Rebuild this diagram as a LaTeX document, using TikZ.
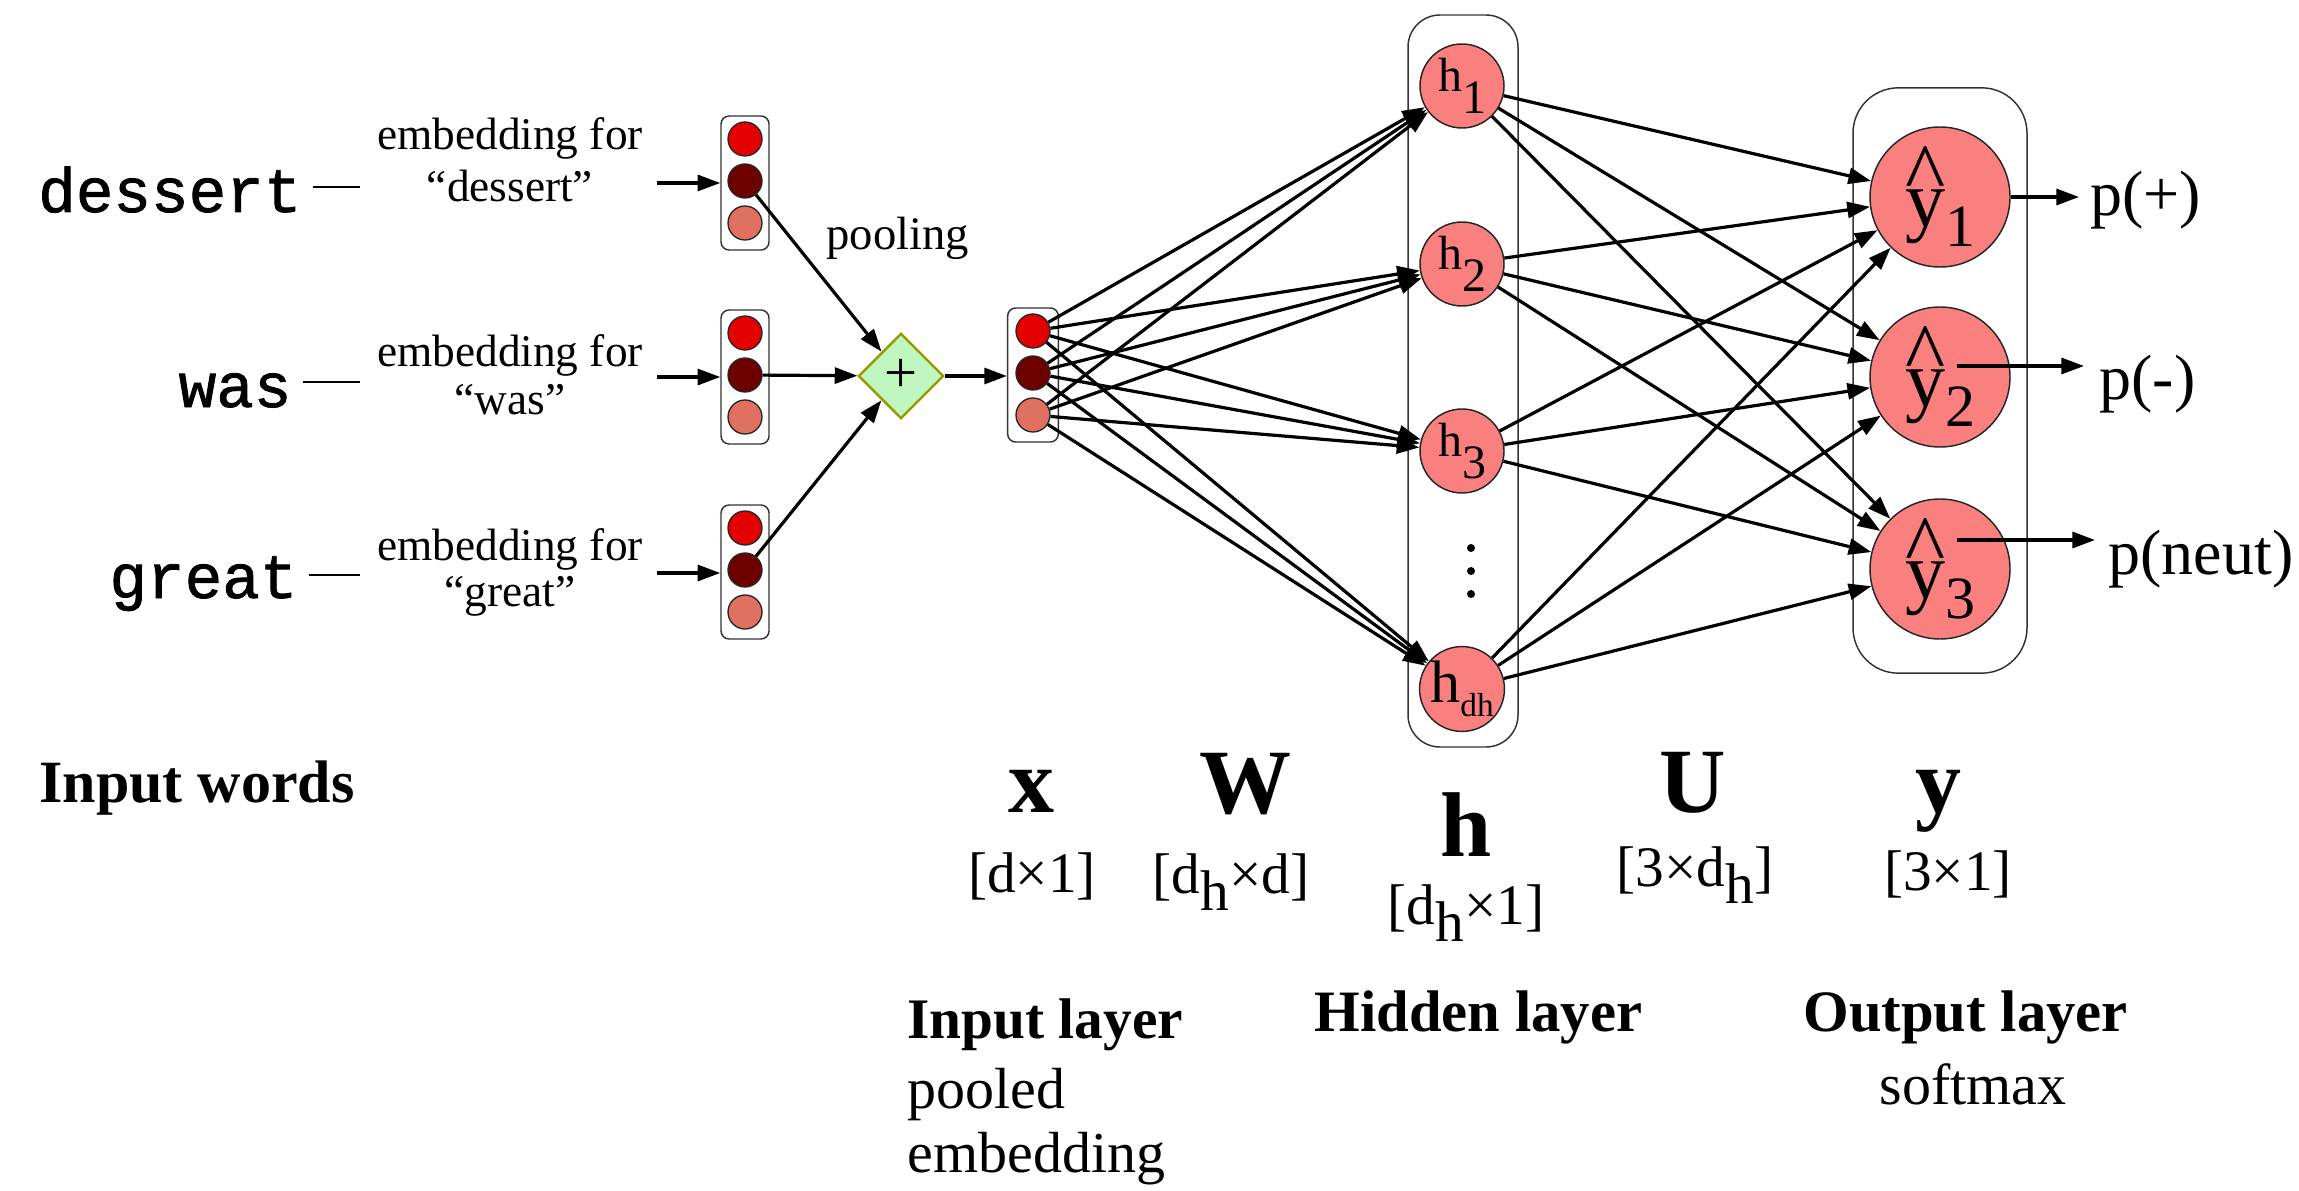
\documentclass[tikz,border=0pt]{standalone}
\usepackage{fontspec}
\setmainfont{Liberation Serif}
\setmonofont{Liberation Mono}
\newfontfamily\wordfont{Liberation Mono}[FakeBold=1.3]
\usetikzlibrary{arrows.meta,shapes.geometric}

\definecolor{dotred}{RGB}{229,0,0}
\definecolor{dotdark}{RGB}{110,0,0}
\definecolor{dotlight}{RGB}{224,112,96}
\definecolor{unitred}{RGB}{250,128,128}
\definecolor{plusgreen}{RGB}{192,246,192}
\definecolor{plusolive}{RGB}{153,153,0}

\newcommand{\lowr}[2][0.3em]{\raisebox{-#1}{#2}}
\newcommand{\yhat}[1]{\fontsize{60pt}{60pt}\selectfont\rlap{\raisebox{18pt}{\fontsize{64pt}{64pt}\selectfont\textasciicircum}}y\raisebox{-15pt}{\fontsize{45pt}{45pt}\selectfont #1}}

\tikzset{every picture/.style={line width=0.75pt}}
\tikzset{
  vecbox/.style={draw=black!80, line width=1.1pt, rounded corners=6pt, minimum width=36pt, minimum height=100.5pt, inner sep=0pt},
  vdot/.style={circle, draw=black!85, line width=1pt, minimum size=25.5pt, inner sep=0pt},
  unit/.style={circle, draw=black!85, line width=1.1pt, fill=unitred, inner sep=0pt},
  layerbox/.style={draw=black!80, line width=1.1pt, inner sep=0pt},
  conn/.style={line width=2.4pt, -{Triangle[length=17pt,width=12pt]}},
  dashline/.style={line width=2.2pt},
  word/.style={anchor=base east, inner sep=0pt, font=\wordfont\fontsize{47pt}{47pt}\selectfont},
  embtxt/.style={anchor=base, inner sep=0pt, font=\fontsize{34pt}{34pt}\selectfont},
  plain/.style={inner sep=0pt, font=\fontsize{43.5pt}{43.5pt}\selectfont},
  capbold/.style={inner sep=0pt, font=\bfseries\fontsize{44pt}{44pt}\selectfont},
  bigbold/.style={anchor=base, inner sep=0pt, font=\bfseries\fontsize{69pt}{69pt}\selectfont},
  dimtxt/.style={anchor=base, inner sep=0pt, font=\fontsize{43pt}{43pt}\selectfont},
  outtxt/.style={anchor=base west, inner sep=0pt, font=\fontsize{48pt}{48pt}\selectfont},
}

\begin{document}
\begin{tikzpicture}[x=0.75pt,y=0.75pt,yscale=-1,xscale=1]
\useasboundingbox (0,0) rectangle (2299,1191);

%Input words
\node[word] (w1) at (302,212) {dessert};
\node[word] (w2) at (292,407) {was};
\node[word] (w3) at (298,598) {great};
\coordinate (w1d) at (360,187);
\coordinate (w2d) at (360,382);
\coordinate (w3d) at (360,575);
\draw[dashline] ([xshift=8pt]w1.east |- w1d) -- (w1d);
\draw[dashline] ([xshift=8pt]w2.east |- w2d) -- (w2d);
\draw[dashline] ([xshift=8pt]w3.east |- w3d) -- (w3d);

%Embedding labels
\node[embtxt] (e1) at (510,150) {embedding for};
\node[embtxt] (e1q) at (510,202) {“dessert”};
\node[embtxt] (e2) at (510,366) {embedding for};
\node[embtxt] (e2q) at (510,414) {“was”};
\node[embtxt] (e3) at (510,560) {embedding for};
\node[embtxt] (e3q) at (510,606) {“great”};

%Embedding vectors
\node[vecbox] (b1) at (745,183) {};
\node[vdot, fill=dotred] (b1a) at (745,139) {};
\node[vdot, fill=dotdark] (b1b) at (745,181) {};
\node[vdot, fill=dotlight] (b1c) at (745,223) {};
\node[vecbox] (b2) at (745,377) {};
\node[vdot, fill=dotred] (b2a) at (745,333) {};
\node[vdot, fill=dotdark] (b2b) at (745,375) {};
\node[vdot, fill=dotlight] (b2c) at (745,417) {};
\node[vecbox] (b3) at (745,572) {};
\node[vdot, fill=dotred] (b3a) at (745,528) {};
\node[vdot, fill=dotdark] (b3b) at (745,570) {};
\node[vdot, fill=dotlight] (b3c) at (745,612) {};

\coordinate (e1r) at (657,183);
\coordinate (e2r) at (657,377);
\coordinate (e3r) at (657,573);
\draw[conn] (e1r) -- (b1.west |- e1r);
\draw[conn] (e2r) -- (b2.west |- e2r);
\draw[conn] (e3r) -- (b3.west |- e3r);

%Pooling
\node[anchor=base west, inner sep=0pt, font=\fontsize{35pt}{35pt}\selectfont] (pool) at (826,250) {pooling};
\node[diamond, draw=plusolive, fill=plusgreen, line width=1.8pt, minimum width=64pt, minimum height=64pt, inner sep=0pt, font=\fontsize{44pt}{44pt}\selectfont] (plus) at (901,376) {+};
\draw[conn] (b1b) -- (plus);
\draw[conn] (b2b) -- (plus);
\draw[conn] (b3b) -- (plus);

%Input layer
\node[vecbox, minimum width=38pt] (bx) at (1033,375) {};
\node[vdot, fill=dotred] (bxa) at (1033,331) {};
\node[vdot, fill=dotdark] (bxb) at (1033,373) {};
\node[vdot, fill=dotlight] (bxc) at (1033,415) {};
\draw[conn] (plus.east) -- (bx.west |- plus.east);

%Hidden layer
\node[layerbox, rounded corners=24pt, minimum width=82.5pt, minimum height=549pt] (hbox) at (1463,381) {};
\node[unit, minimum size=63pt, font=\fontsize{36pt}{36pt}\selectfont] (h1) at (1462,86) {h\lowr[0.45em]{1}};
\node[unit, minimum size=63pt, font=\fontsize{36pt}{36pt}\selectfont] (h2) at (1462,264) {h\lowr[0.45em]{2}};
\node[unit, minimum size=63pt, font=\fontsize{36pt}{36pt}\selectfont] (h3) at (1462,451) {h\lowr[0.45em]{3}};
\node[unit, minimum size=63pt, font=\fontsize{45pt}{45pt}\selectfont] (h4) at (1462,689) {h\raisebox{-11pt}{\fontsize{25pt}{25pt}\selectfont dh}};
\node[circle, fill=black, minimum size=6pt, inner sep=0pt] (hd1) at (1471,548) {};
\node[circle, fill=black, minimum size=6pt, inner sep=0pt] (hd2) at (1471,571) {};
\node[circle, fill=black, minimum size=6pt, inner sep=0pt] (hd3) at (1471,594) {};

%Output layer
\node[layerbox, rounded corners=34pt, minimum width=130.5pt, minimum height=439pt] (ybox) at (1940,380.5) {};
\node[unit, minimum size=105pt] (y1) at (1940,197) {\yhat{1}};
\node[unit, minimum size=105pt] (y2) at (1940,377) {\yhat{2}};
\node[unit, minimum size=105pt] (y3) at (1940,569) {\yhat{3}};

%Weights
\foreach \s in {bxa,bxb,bxc}
  \foreach \t in {h1,h2,h3,h4}
    \draw[conn] (\s) -- (\t);
\foreach \s in {h1,h2,h3,h4}
  \foreach \t in {y1,y2,y3}
    \draw[conn] (\s) -- (\t);

%Outputs
\node[outtxt] (po1) at (2090,216) {p(+)};
\node[outtxt] (po2) at (2099,399) {p(-)};
\node[outtxt] (po3) at (2108,574) {p(neut)};
\coordinate (a1) at (2079,197);
\coordinate (y2s) at (1957,366);
\coordinate (a2) at (2084,366);
\coordinate (y3s) at (1957,540);
\coordinate (a3) at (2095,540);
\draw[conn] (y1) -- (a1);
\draw[conn] (y2s) -- (a2);
\draw[conn] (y3s) -- (a3);

%Bottom labels
\node[bigbold] (lx) at (1031,812) {x};
\node[bigbold] (lw) at (1245,813) {W};
\node[bigbold] (lh) at (1466,856) {h};
\node[bigbold] (lu) at (1693,812) {U};
\node[bigbold] (ly) at (1938,812) {y};
\node[dimtxt] (dx) at (1032,892) {[d×1]};
\node[dimtxt] (dw) at (1231,893) {[d\lowr{h}×d]};
\node[dimtxt] (dh) at (1466,924) {[d\lowr{h}×1]};
\node[dimtxt] (du) at (1695,886) {[3×d\lowr{h}]};
\node[dimtxt] (dy) at (1948,890) {[3×1]};

\node[capbold, anchor=base west, font=\bfseries\fontsize{45pt}{45pt}\selectfont] (inw) at (39,802) {Input words};
\node[capbold, anchor=base west, font=\bfseries\fontsize{43pt}{43pt}\selectfont] (inl) at (907,1038) {Input layer};
\node[plain, anchor=base west] (inl2) at (907,1108) {pooled};
\node[plain, anchor=base west] (inl3) at (907,1172) {embedding};
\node[capbold, anchor=base west] (hid) at (1314,1031) {Hidden layer};
\node[capbold, anchor=base west] (outl) at (1803,1031) {Output layer};
\node[plain, anchor=base] (outl2) at (1973,1104) {softmax};

\end{tikzpicture}
\end{document}
